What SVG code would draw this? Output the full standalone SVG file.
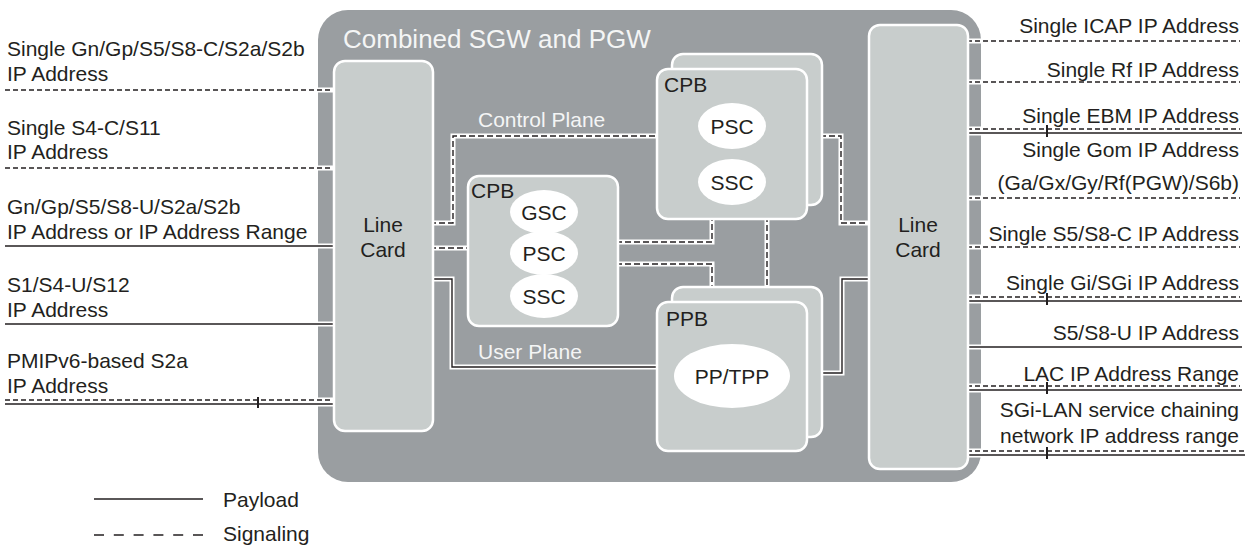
<svg xmlns="http://www.w3.org/2000/svg" width="1250" height="546" viewBox="0 0 1250 546">
  <style>
    text { font-family: "Liberation Sans", Arial, sans-serif; font-size: 21px; fill: #231f20; }
    .lbl-w { fill: #f4f5f5; }
    .title { font-size: 26px; fill: #f4f5f5; }
    .mid { text-anchor: middle; }
    .end { text-anchor: end; }
    .chassis { fill: #9a9ea1; }
    .card { fill: #c8cdcc; stroke: #ffffff; stroke-width: 2.5; }
    .proc { fill: #ffffff; }
    .case { fill: none; stroke: #ffffff; stroke-width: 5; }
    .case2 { fill: none; stroke: #ffffff; stroke-width: 9; }
    .sig { fill: none; stroke: #231f20; stroke-width: 1.4; stroke-dasharray: 6 3; }
    .pay { fill: none; stroke: #231f20; stroke-width: 1.4; }
    .ext-sig { fill: none; stroke: #231f20; stroke-width: 1.4; stroke-dasharray: 5 3; }
    .leg-sig { fill: none; stroke: #231f20; stroke-width: 1.4; stroke-dasharray: 10 9.8; }
    .tick { stroke: #231f20; stroke-width: 2; }
  </style>

  <!-- chassis -->
  <g id="chassis">
    <rect class="chassis" x="318" y="10" width="663" height="472" rx="30"/>
    <text class="title" x="343" y="48">Combined SGW and PGW</text>
  </g>

  <!-- internal planes -->
  <g id="connectors">
    <!-- control plane (signaling) -->
    <path class="case" d="M430,223 H453 V136 H660"/>
    <path class="sig" d="M430,223 H453 V136 H660"/>
    <path class="case" d="M820,136 H841 V223 H871"/>
    <path class="sig" d="M820,136 H841 V223 H871"/>
    <path class="case" d="M616,242 H712 V216"/>
    <path class="sig" d="M616,242 H712 V216"/>
    <path class="case" d="M616,264 H712 V289"/>
    <path class="sig" d="M616,264 H712 V289"/>
    <path class="case" d="M767,216 V289"/>
    <path class="sig" d="M767,216 V289"/>
    <path class="case" d="M430,248 H470"/>
    <path class="sig" d="M430,248 H470"/>
    <!-- user plane (payload) -->
    <path class="case" d="M430,279 H452 V367 H660"/>
    <path class="pay" d="M430,279 H452 V367 H660"/>
    <path class="case" d="M820,373 H842 V279 H871"/>
    <path class="pay" d="M820,373 H842 V279 H871"/>

    <!-- external interfaces, left -->
    <line class="case" x1="5" y1="90" x2="334" y2="90"/>
    <line class="ext-sig" x1="5" y1="90" x2="334" y2="90"/>
    <line class="case" x1="5" y1="168" x2="334" y2="168"/>
    <line class="ext-sig" x1="5" y1="168" x2="334" y2="168"/>
    <line class="case" x1="5" y1="246" x2="334" y2="246"/>
    <line class="pay" x1="5" y1="246" x2="334" y2="246"/>
    <line class="case" x1="5" y1="324" x2="334" y2="324"/>
    <line class="pay" x1="5" y1="324" x2="334" y2="324"/>
    <line class="case2" x1="5" y1="402" x2="334" y2="402"/>
    <line class="ext-sig" x1="5" y1="400" x2="334" y2="400"/>
    <line class="pay" x1="5" y1="404" x2="334" y2="404"/>
    <line class="tick" x1="258" y1="397" x2="258" y2="408"/>

    <!-- external interfaces, right -->
    <line class="case" x1="967" y1="41" x2="1240" y2="41"/>
    <line class="ext-sig" x1="967" y1="41" x2="1240" y2="41"/>
    <line class="case" x1="967" y1="82" x2="1240" y2="82"/>
    <line class="ext-sig" x1="967" y1="82" x2="1240" y2="82"/>
    <line class="case2" x1="967" y1="131" x2="1242" y2="131"/>
    <line class="ext-sig" x1="967" y1="129" x2="1240" y2="129"/>
    <line class="pay" x1="967" y1="133" x2="1242" y2="133"/>
    <line class="tick" x1="1047" y1="125" x2="1047" y2="137"/>
    <line class="case" x1="967" y1="198" x2="1240" y2="198"/>
    <line class="ext-sig" x1="967" y1="198" x2="1240" y2="198"/>
    <line class="case" x1="967" y1="247" x2="1240" y2="247"/>
    <line class="ext-sig" x1="967" y1="247" x2="1240" y2="247"/>
    <line class="case2" x1="967" y1="299" x2="1242" y2="299"/>
    <line class="ext-sig" x1="967" y1="297" x2="1240" y2="297"/>
    <line class="pay" x1="967" y1="301" x2="1242" y2="301"/>
    <line class="tick" x1="1047" y1="293" x2="1047" y2="305"/>
    <line class="case" x1="967" y1="347" x2="1242" y2="347"/>
    <line class="pay" x1="967" y1="347" x2="1242" y2="347"/>
    <line class="case2" x1="967" y1="388" x2="1242" y2="388"/>
    <line class="ext-sig" x1="967" y1="386" x2="1240" y2="386"/>
    <line class="pay" x1="967" y1="390" x2="1242" y2="390"/>
    <line class="tick" x1="1047" y1="382" x2="1047" y2="394"/>
    <line class="case2" x1="967" y1="453" x2="1245" y2="453"/>
    <line class="ext-sig" x1="967" y1="451" x2="1245" y2="451"/>
    <line class="pay" x1="967" y1="455" x2="1245" y2="455"/>
    <line class="tick" x1="1047" y1="447" x2="1047" y2="459"/>
  </g>

  <g id="plane-labels">
    <text class="lbl-w" x="478" y="127">Control Plane</text>
    <text class="lbl-w" x="478" y="359">User Plane</text>
  </g>

  <!-- line cards -->
  <g id="line-card-left">
    <rect class="card" x="334" y="61" width="99" height="370" rx="11"/>
    <text class="mid" x="383" y="232">Line</text>
    <text class="mid" x="383" y="257">Card</text>
  </g>
  <g id="line-card-right">
    <rect class="card" x="869" y="25" width="99" height="444" rx="11"/>
    <text class="mid" x="918" y="232">Line</text>
    <text class="mid" x="918" y="257">Card</text>
  </g>

  <!-- control plane boards -->
  <g id="cpb-top">
    <rect class="card" x="672" y="54" width="150" height="151" rx="11"/>
    <rect class="card" x="657" y="69" width="150" height="150" rx="11"/>
    <text x="664" y="92">CPB</text>
    <ellipse class="proc" cx="732" cy="126" rx="34" ry="23"/>
    <text class="mid" x="732" y="134">PSC</text>
    <ellipse class="proc" cx="732" cy="182" rx="34" ry="23"/>
    <text class="mid" x="732" y="190">SSC</text>
  </g>

  <g id="cpb-middle">
    <rect class="card" x="468" y="176" width="150" height="150" rx="11"/>
    <text x="471" y="198">CPB</text>
    <ellipse class="proc" cx="544" cy="212" rx="34" ry="22"/>
    <text class="mid" x="544" y="220">GSC</text>
    <ellipse class="proc" cx="544" cy="253" rx="34" ry="22"/>
    <text class="mid" x="544" y="261">PSC</text>
    <ellipse class="proc" cx="544" cy="296" rx="34" ry="22"/>
    <text class="mid" x="544" y="304">SSC</text>
  </g>

  <!-- packet processing board -->
  <g id="ppb">
    <rect class="card" x="672" y="287" width="150" height="150" rx="11"/>
    <rect class="card" x="657" y="302" width="150" height="149" rx="11"/>
    <text x="666" y="326">PPB</text>
    <ellipse class="proc" cx="732" cy="376" rx="58" ry="32"/>
    <text class="mid" x="732" y="384">PP/TPP</text>
  </g>

  <!-- interface labels, left -->
  <g id="labels-left">
    <text x="7" y="56">Single Gn/Gp/S5/S8-C/S2a/S2b</text>
    <text x="7" y="81">IP Address</text>
    <text x="7" y="135">Single S4-C/S11</text>
    <text x="7" y="159">IP Address</text>
    <text x="7" y="214">Gn/Gp/S5/S8-U/S2a/S2b</text>
    <text x="7" y="239">IP Address or IP Address Range</text>
    <text x="7" y="292">S1/S4-U/S12</text>
    <text x="7" y="317">IP Address</text>
    <text x="7" y="368">PMIPv6-based S2a</text>
    <text x="7" y="393">IP Address</text>
  </g>

  <!-- interface labels, right -->
  <g id="labels-right">
    <text class="end" x="1239" y="33">Single ICAP IP Address</text>
    <text class="end" x="1239" y="77">Single Rf IP Address</text>
    <text class="end" x="1239" y="123">Single EBM IP Address</text>
    <text class="end" x="1239" y="157">Single Gom IP Address</text>
    <text class="end" x="1239" y="190">(Ga/Gx/Gy/Rf(PGW)/S6b)</text>
    <text class="end" x="1239" y="241">Single S5/S8-C IP Address</text>
    <text class="end" x="1239" y="290">Single Gi/SGi IP Address</text>
    <text class="end" x="1239" y="340">S5/S8-U IP Address</text>
    <text class="end" x="1239" y="381">LAC IP Address Range</text>
    <text class="end" x="1239" y="417">SGi-LAN service chaining</text>
    <text class="end" x="1239" y="443">network IP address range</text>
  </g>

  <!-- legend -->
  <g id="legend">
    <line class="pay" x1="94" y1="499" x2="203" y2="499"/>
    <text x="223" y="507">Payload</text>
    <line class="leg-sig" x1="94" y1="535" x2="203" y2="535"/>
    <text x="223" y="541">Signaling</text>
  </g>
</svg>
